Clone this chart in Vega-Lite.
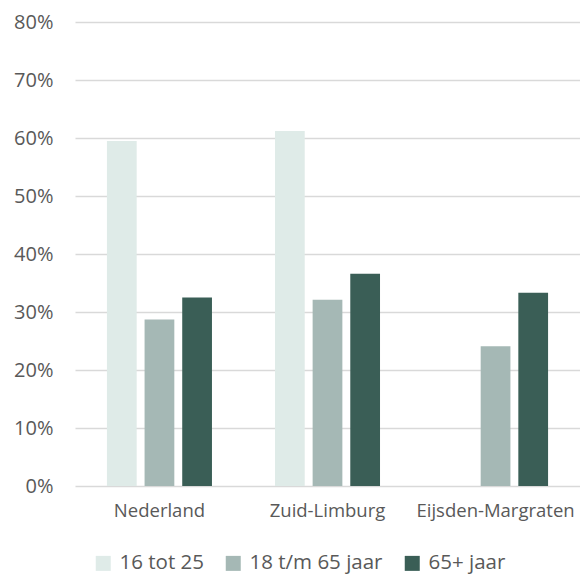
{
  "$schema": "https://vega.github.io/schema/vega-lite/v6.json",
  "width": 505,
  "height": 464,
  "autosize": {"type": "none"},
  "padding": {"left": 75, "top": 22, "right": 0, "bottom": 88},
  "background": "white",
  "config": {"font": "Open Sans", "view": {"stroke": null}},
  "data": {"values": [
    {"regio": "Nederland", "groep": "16 tot 25", "waarde": 0.595},
    {"regio": "Nederland", "groep": "18 t/m 65 jaar", "waarde": 0.287},
    {"regio": "Nederland", "groep": "65+ jaar", "waarde": 0.325},
    {"regio": "Zuid-Limburg", "groep": "16 tot 25", "waarde": 0.612},
    {"regio": "Zuid-Limburg", "groep": "18 t/m 65 jaar", "waarde": 0.321},
    {"regio": "Zuid-Limburg", "groep": "65+ jaar", "waarde": 0.366},
    {"regio": "Eijsden-Margraten", "groep": "18 t/m 65 jaar", "waarde": 0.241},
    {"regio": "Eijsden-Margraten", "groep": "65+ jaar", "waarde": 0.333}
  ]},
  "mark": {"type": "bar"},
  "encoding": {
    "x": {
      "field": "regio", "type": "nominal",
      "sort": ["Nederland", "Zuid-Limburg", "Eijsden-Margraten"],
      "scale": {"paddingInner": 0.375, "paddingOuter": 0.19},
      "axis": {"title": null, "labelAngle": 0, "domain": false, "ticks": false, "labelFontSize": 18.5, "labelColor": "#595959", "labelPadding": 15, "labelOverlap": false, "labelBound": false}
    },
    "xOffset": {
      "field": "groep", "type": "nominal",
      "sort": ["16 tot 25", "18 t/m 65 jaar", "65+ jaar"],
      "scale": {"paddingInner": 0.21}
    },
    "y": {
      "field": "waarde", "type": "quantitative",
      "scale": {"domain": [0, 0.8]},
      "axis": {"title": null, "format": ".0%", "values": [0, 0.1, 0.2, 0.3, 0.4, 0.5, 0.6, 0.7, 0.8], "labelOverlap": false, "domain": false, "ticks": false, "labelFontSize": 20, "labelColor": "#595959", "labelPadding": 22, "gridColor": "#D9D9D9", "gridWidth": 1.5}
    },
    "color": {
      "field": "groep", "type": "nominal",
      "sort": ["16 tot 25", "18 t/m 65 jaar", "65+ jaar"],
      "scale": {"domain": ["16 tot 25", "18 t/m 65 jaar", "65+ jaar"], "range": ["#DFEBE8", "#A5B8B5", "#3A5E56"]},
      "legend": {"title": null, "orient": "none", "legendX": 18, "legendY": 531, "direction": "horizontal", "symbolType": "square", "symbolSize": 225, "symbolStrokeWidth": 0, "labelFontSize": 20.5, "labelColor": "#595959", "columnPadding": 19, "labelOffset": 6}
    }
  }
}
